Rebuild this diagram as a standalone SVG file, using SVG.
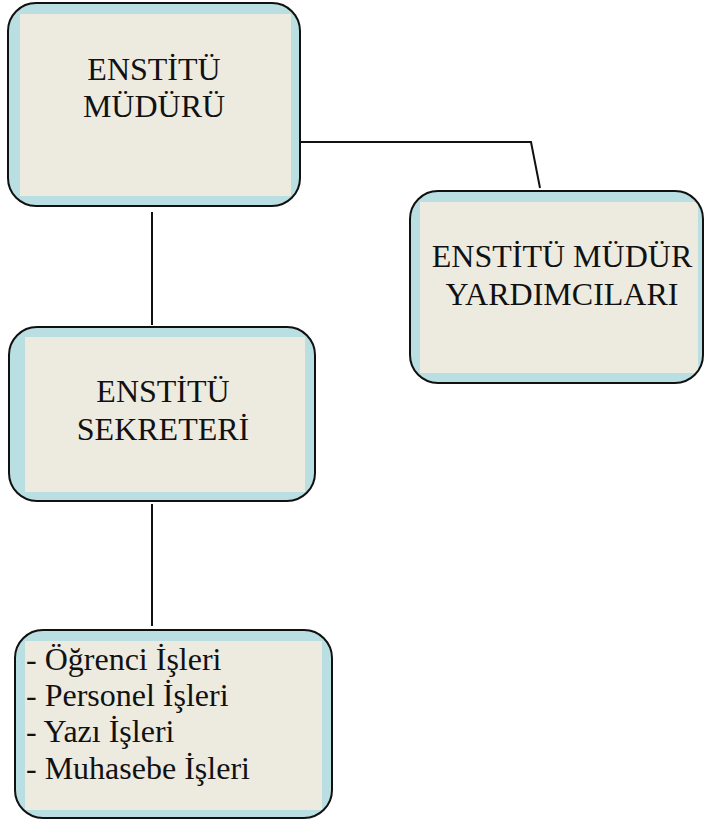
<svg xmlns="http://www.w3.org/2000/svg" width="706" height="820" viewBox="0 0 706 820">
<style>
.outer{fill:#b9dfe3;stroke:none}
.edge{fill:none;stroke:#111;stroke-width:2}
.inner{fill:#edeae0}
.t{font-family:"Liberation Serif","Times New Roman",serif;font-size:32px;fill:#111}
.c{text-anchor:middle}
.conn{fill:none;stroke:#111;stroke-width:2}
</style>
<defs>
<clipPath id="c1"><rect x="8" y="3" width="292" height="203" rx="28"/></clipPath>
<clipPath id="c2"><rect x="9" y="327" width="306" height="174" rx="28"/></clipPath>
<clipPath id="c3"><rect x="410" y="191" width="293" height="192" rx="28"/></clipPath>
<clipPath id="c4"><rect x="15" y="630" width="317" height="188" rx="28"/></clipPath>
</defs>
<rect width="706" height="820" fill="#fff"/>
<g id="connectors">
<polyline class="conn" points="301,142 531,142 540,188"/>
<line class="conn" x1="152" y1="212" x2="152" y2="325"/>
<line class="conn" x1="152" y1="504" x2="152" y2="626"/>
</g>
<g id="node-mudur">
<rect class="outer" x="8" y="3" width="292" height="203" rx="28"/>
<rect class="inner" x="20" y="14" width="271" height="182" clip-path="url(#c1)"/>
<rect class="edge" x="8" y="3" width="292" height="203" rx="28"/>
<text class="t c" x="154" y="80">ENSTİTÜ</text>
<text class="t c" x="154" y="117">MÜDÜRÜ</text>
</g>
<g id="node-yardimcilar">
<rect class="outer" x="410" y="191" width="293" height="192" rx="28"/>
<rect class="inner" x="420" y="202" width="278" height="171" clip-path="url(#c3)"/>
<rect class="edge" x="410" y="191" width="293" height="192" rx="28"/>
<text class="t c" x="562" y="267">ENSTİTÜ MÜDÜR</text>
<text class="t c" x="562" y="305">YARDIMCILARI</text>
</g>
<g id="node-sekreter">
<rect class="outer" x="9" y="327" width="306" height="174" rx="28"/>
<rect class="inner" x="25" y="337" width="280" height="155" clip-path="url(#c2)"/>
<rect class="edge" x="9" y="327" width="306" height="174" rx="28"/>
<text class="t c" x="163" y="402">ENSTİTÜ</text>
<text class="t c" x="163" y="440">SEKRETERİ</text>
</g>
<g id="node-isler">
<rect class="outer" x="15" y="630" width="317" height="188" rx="28"/>
<rect class="inner" x="25" y="641" width="297" height="169" clip-path="url(#c4)"/>
<rect class="edge" x="15" y="630" width="317" height="188" rx="28"/>
<text class="t" x="26" y="670">- Öğrenci İşleri</text>
<text class="t" x="26" y="706">- Personel İşleri</text>
<text class="t" x="26" y="742">- Yazı İşleri</text>
<text class="t" x="26" y="779">- Muhasebe İşleri</text>
</g>
</svg>
